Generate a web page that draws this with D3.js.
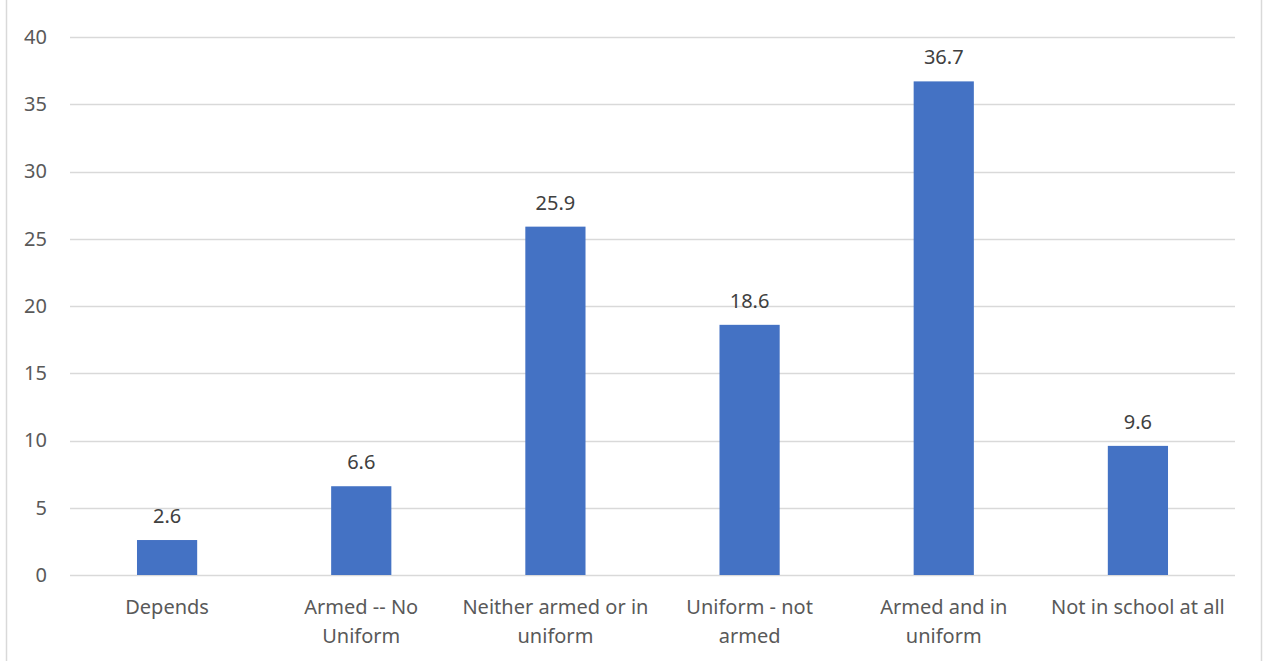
<!DOCTYPE html>
<html><head><meta charset="utf-8">
<script src="https://cdn.jsdelivr.net/npm/d3@7"></script>
<style>body{margin:0;background:#fff;} svg{display:block;font-family:"Noto Sans","Open Sans",sans-serif;}</style>
</head><body>
<script>
const categories = ["Depends","Armed -- No Uniform","Neither armed or in uniform","Uniform - not armed","Armed and in uniform","Not in school at all"];
const categoryLines = [["Depends"],["Armed -- No","Uniform"],["Neither armed or in","uniform"],["Uniform - not","armed"],["Armed and in","uniform"],["Not in school at all"]];
const values = [2.6,6.6,25.9,18.6,36.7,9.6];
const yTicks = [0,5,10,15,20,25,30,35,40];

const W=1263,H=661,FS="20px";
const svg=d3.select("body").append("svg").attr("width",W).attr("height",H);
svg.append("line").attr("x1",6.5).attr("x2",6.5).attr("y1",0).attr("y2",H).attr("stroke","#d9d9d9").attr("stroke-width",1.5);
svg.append("line").attr("x1",1261.5).attr("x2",1261.5).attr("y1",0).attr("y2",H).attr("stroke","#d9d9d9").attr("stroke-width",1.5);

const x=d3.scaleBand().domain(categories).range([70,1235]).paddingInner(0.69).paddingOuter(0.345);
const y=d3.scaleLinear().domain([0,40]).range([575,37]);

const g=svg.append("g");
g.selectAll("line.grid").data(yTicks).join("line").attr("class","grid")
 .attr("x1",70).attr("x2",1235).attr("y1",d=>Math.round(y(d))+0.5).attr("y2",d=>Math.round(y(d))+0.5)
 .attr("stroke","#d9d9d9").attr("stroke-width",1.5);

const yAxis=d3.axisLeft(y).tickValues(yTicks).tickSize(0).tickPadding(0);
const ya=svg.append("g").attr("transform","translate(47,0)").call(yAxis);
ya.select(".domain").remove();
ya.selectAll("text").attr("fill","#595959").attr("font-size",FS).attr("font-family","Noto Sans");

g.selectAll("rect").data(values).join("rect")
 .attr("x",(d,i)=>x(categories[i])).attr("width",x.bandwidth())
 .attr("y",d=>y(d)).attr("height",d=>y(0)-y(d)).attr("fill","#4472c4");

g.selectAll("text.val").data(values).join("text").attr("class","val")
 .attr("x",(d,i)=>x(categories[i])+x.bandwidth()/2).attr("y",d=>y(d)-17)
 .attr("text-anchor","middle").attr("fill","#404040").attr("font-size",FS).text(d=>d.toFixed(1));

const xAxis=d3.axisBottom(x).tickSize(0).tickFormat("");
const xa=svg.append("g").attr("transform","translate(0,575)").call(xAxis);
xa.select(".domain").remove();
xa.selectAll(".tick").each(function(d,i){
  const t=d3.select(this).append("text").attr("fill","#595959").attr("font-size",FS).attr("font-family","Noto Sans").attr("text-anchor","middle").attr("y",39);
  categoryLines[i].forEach((l,j)=>t.append("tspan").attr("x",0).attr("dy",j?29:0).text(l));
});
</script>
</body></html>
